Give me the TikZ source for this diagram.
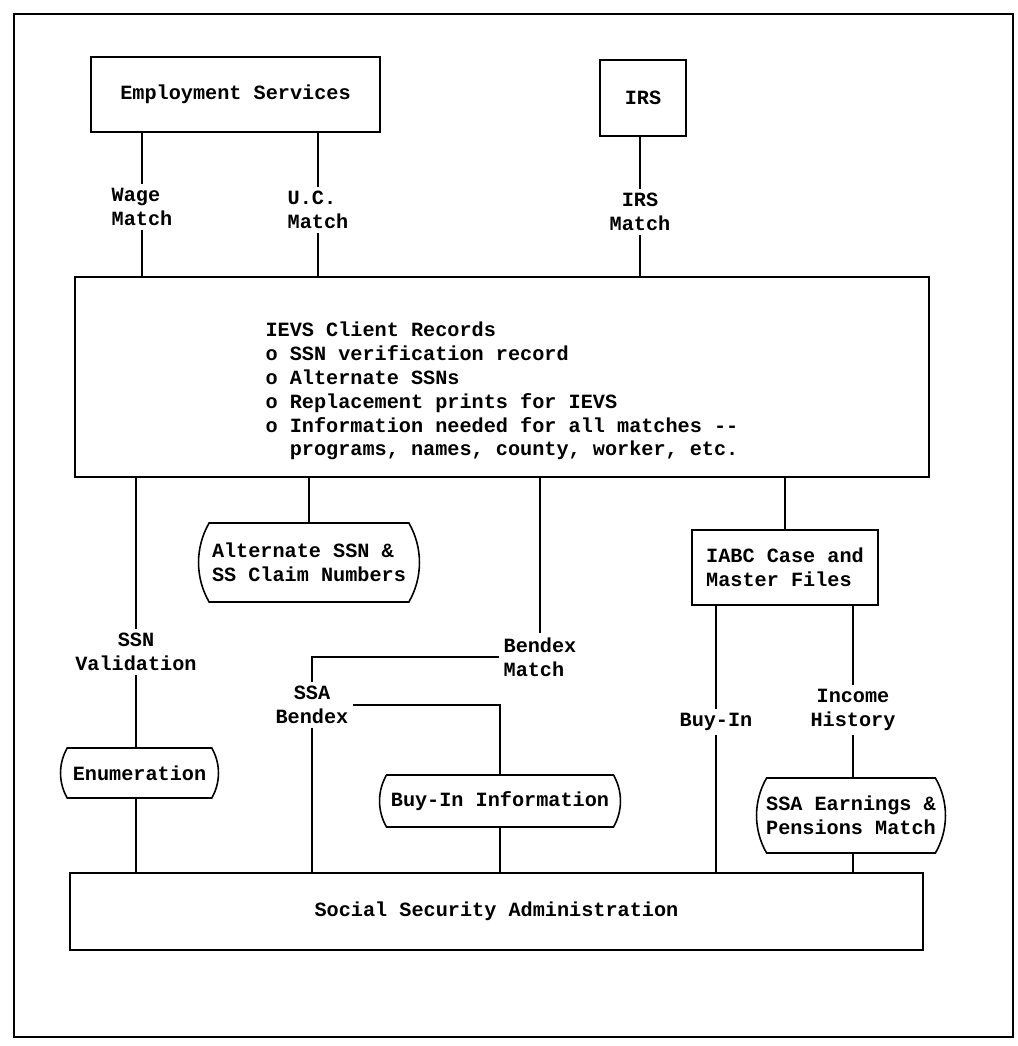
\documentclass[tikz,border=0pt]{standalone}
\usepackage{fontspec}
\setmonofont{Liberation Mono}
\usetikzlibrary{shapes.misc}

\begin{document}
\begin{tikzpicture}[x=0.02cm, y=-0.02cm,
    font=\ttfamily\bfseries\fontsize{11.5}{13.6}\selectfont,
    line width=0.9pt,
    box/.style={
      draw,
      rectangle,
      inner sep=2pt
    },
    store/.style={
      draw,
      rounded rectangle,
      rounded rectangle arc length=60,
      inner sep=2pt,
      align=left
    },
    lbl/.style={inner sep=2pt, align=center},
    lbll/.style={inner sep=2pt, align=left}
  ]
  \useasboundingbox (0,0) rectangle (1018,1046);
  \draw (14,14) rectangle (1013,1037);

  \node[box, minimum width=5.78cm, minimum height=1.5cm] (es) at (235.5,94.5) {Employment Services};
  \node[box, minimum width=1.72cm, minimum height=1.52cm] (irs) at (643,98) {IRS};
  \node[box, minimum width=17.08cm, minimum height=4cm] (ievs) at (502,377) {};
  \node[align=left] (ievstext) at (502,391) {IEVS Client Records\\
    o SSN verification record\\
    o Alternate SSNs\\
    o Replacement prints for IEVS\\
    o Information needed for all matches -{}-\\
    \hphantom{o }programs, names, county, worker, etc.};
  \node[store, minimum width=4.56cm, minimum height=1.58cm] (alt) at (309,562.5) {Alternate SSN \&\\SS Claim Numbers};
  \node[store, minimum width=3.3cm, minimum height=1cm] (enum) at (139.5,773) {Enumeration};
  \node[store, minimum width=4.96cm, minimum height=1.04cm] (buyinfo) at (500,801) {Buy-In Information};
  \node[box, minimum width=3.72cm, minimum height=1.5cm, align=left] (iabc) at (785,567.5) {IABC Case and\\Master Files};
  \node[store, minimum width=3.92cm, minimum height=1.5cm] (earn) at (851,815.5) {SSA Earnings \&\\Pensions Match};
  \node[box, minimum width=17.06cm, minimum height=1.54cm] (ssa) at (496.5,911.5) {Social Security Administration};

  \node[lbll] (wage) at (142,207) {Wage\\Match};
  \node[lbll] (uc) at (318,210) {U.C.\\Match};
  \node[lbl] (irsm) at (640,212) {IRS\\Match};
  \node[lbl] (ssnv) at (136,652) {SSN\\Validation};
  \node[lbll] (bendex) at (540,657) {Bendex\\Match};
  \node[lbl] (ssab) at (312,705) {SSA\\Bendex};
  \node[lbl] (buyin) at (716,722) {Buy-In};
  \node[lbl] (income) at (853,710) {Income\\History};

  \draw (es.south -| wage) -- (wage);
  \draw (wage) -- (ievs.north -| wage);
  \draw (es.south -| uc) -- (uc);
  \draw (uc) -- (ievs.north -| uc);
  \draw (irs.south -| irsm) -- (irsm);
  \draw (irsm) -- (ievs.north -| irsm);
  \draw (ievs.south -| ssnv) -- (ssnv);
  \draw (ssnv) -- (enum.north -| ssnv);
  \draw (enum.south -| ssnv) -- (ssa.north -| ssnv);
  \draw (ievs.south -| alt) -- (alt);
  \draw (ievs.south -| bendex) -- (bendex);
  \draw (bendex.west) -| (ssab.north);
  \draw (ssab) -- (ssa.north -| ssab);
  \draw (ssab.east) -| (buyinfo.north);
  \draw (buyinfo) -- (ssa.north -| buyinfo);
  \draw (ievs.south -| iabc) -- (iabc);
  \draw (iabc.south -| buyin) -- (buyin);
  \draw (buyin) -- (ssa.north -| buyin);
  \draw (iabc.south -| income) -- (income);
  \draw (income) -- (earn.north -| income);
  \draw (earn.south -| income) -- (ssa.north -| income);
\end{tikzpicture}
\end{document}
